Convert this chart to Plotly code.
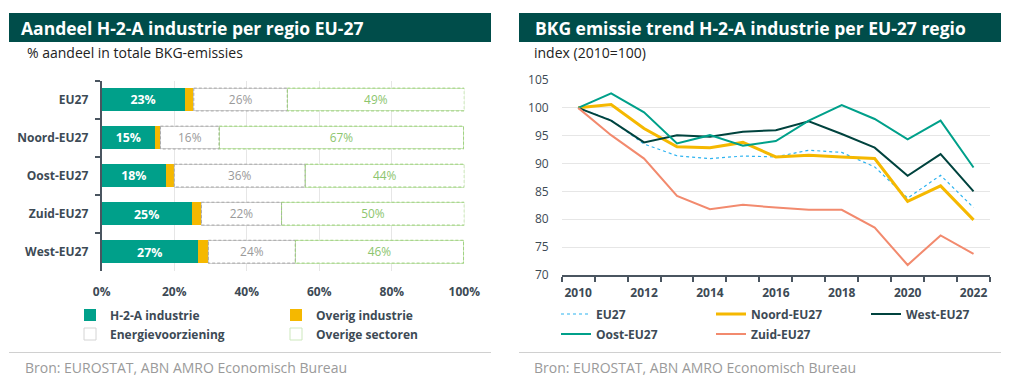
import plotly.graph_objects as go

# ---------------- data ----------------
regions = ["EU27", "Noord-EU27", "Oost-EU27", "Zuid-EU27", "West-EU27"]
h2a = [22.9, 14.8, 17.8, 24.9, 26.6]
overig_ind = [2.5, 1.4, 2.2, 2.6, 2.8]
energie = [25.8, 16.2, 36.1, 22.1, 24.0]
overige = [48.8, 67.4, 43.9, 50.4, 46.4]
pct_ticks = [0, 20, 40, 60, 80, 100]
pct_ticktext = ["0%", "20%", "40%", "60%", "80%", "100%"]

years = [2010, 2011, 2012, 2013, 2014, 2015, 2016, 2017, 2018, 2019, 2020, 2021, 2022]
eu27 = [100, 97.8, 93.5, 91.4, 90.9, 91.35, 91.2, 92.4, 92.0, 89.4, 83.8, 87.9, 82.1]
noord = [100, 100.6, 96.3, 93.0, 92.85, 93.8, 91.2, 91.5, 91.2, 90.9, 83.2, 86.0, 79.9]
west = [100, 97.7, 93.8, 95.1, 94.8, 95.7, 96.0, 97.6, 95.3, 92.85, 87.8, 91.7, 85.0]
oost = [100, 102.6, 99.2, 93.6, 95.1, 93.2, 94.05, 97.7, 100.5, 98.0, 94.35, 97.7, 89.3]
zuid = [100, 95.1, 90.9, 84.2, 81.8, 82.6, 82.1, 81.7, 81.7, 78.5, 71.8, 77.1, 73.8]
year_ticks = [2010, 2012, 2014, 2016, 2018, 2020, 2022]
index_ticks = [70, 75, 80, 85, 90, 95, 100, 105]

# ---------------- style ----------------
W, H = 1012, 387
FONT = "Open Sans"
DARK = "#3d4a55"
HEAD = "#004d4a"
TEAL = "#00a08a"
YELLOW = "#f5b800"
GREY_D = "#a8a8a8"
GREEN_D = "#9fd17f"

def px_x(p):
    return p / W

def px_y(p):
    return 1 - p / H

fig = go.Figure()

# ---- left: stacked bars ----
fig.add_trace(go.Bar(
    y=regions, x=h2a, orientation="h", name="H-2-A industrie",
    marker=dict(color=TEAL, line=dict(width=0)),
    texttemplate="%{x:.0f}%", textposition="inside", insidetextanchor="middle",
    textfont=dict(color="white", size=14, family=FONT, weight="bold"),
    textangle=0, xaxis="x", yaxis="y", legend="legend"))
fig.add_trace(go.Bar(
    y=regions, x=overig_ind, orientation="h", name="Overig industrie",
    marker=dict(color=YELLOW, line=dict(width=0)),
    xaxis="x", yaxis="y", legend="legend"))
fig.add_trace(go.Bar(
    y=regions, x=energie, orientation="h", name="Energievoorziening",
    marker=dict(color="white", line=dict(width=1, color="#d4d4d4")),
    texttemplate="%{x:.0f}%", textposition="inside", insidetextanchor="middle",
    textfont=dict(color="#9a9a9a", size=12, family=FONT),
    textangle=0, xaxis="x", yaxis="y", legend="legend2"))
fig.add_trace(go.Bar(
    y=regions, x=overige, orientation="h", name="Overige sectoren",
    marker=dict(color="white", line=dict(width=1, color="#cde8bd")),
    texttemplate="%{x:.0f}%", textposition="inside", insidetextanchor="middle",
    textfont=dict(color="#8cc56e", size=12, family=FONT),
    textangle=0, xaxis="x", yaxis="y", legend="legend2"))

shapes = []
for i in range(len(regions)):
    s = h2a[i] + overig_ind[i]
    e = s + energie[i]
    o = e + overige[i]
    shapes.append(dict(type="rect", xref="x", yref="y", x0=s, x1=e, y0=i - 0.3, y1=i + 0.3,
                       line=dict(color=GREY_D, width=1, dash="3px,2px"), layer="above"))
    shapes.append(dict(type="rect", xref="x", yref="y", x0=e, x1=o, y0=i - 0.3, y1=i + 0.3,
                       line=dict(color=GREEN_D, width=1, dash="3px,2px"), layer="above"))

# ---- right: lines ----
line_series = [
    ("EU27", eu27, dict(color="#2db3f0", width=1.2, dash="dot"), "legend3"),
    ("Noord-EU27", noord, dict(color=YELLOW, width=3), "legend3"),
    ("West-EU27", west, dict(color="#00433e", width=2), "legend3"),
    ("Oost-EU27", oost, dict(color="#00a08a", width=2), "legend4"),
    ("Zuid-EU27", zuid, dict(color="#f28a6e", width=2), "legend4"),
]
for name, vals, ln, lg in line_series:
    fig.add_trace(go.Scatter(x=years, y=vals, mode="lines", name=name, line=ln,
                             xaxis="x2", yaxis="y2", legend=lg))

# header bars and separators
for x0, x1 in [(9, 491), (519, 1001)]:
    shapes.append(dict(type="rect", xref="paper", yref="paper",
                       x0=px_x(x0), x1=px_x(x1), y0=px_y(42), y1=px_y(13),
                       fillcolor=HEAD, line=dict(width=0), layer="below"))
    shapes.append(dict(type="line", xref="paper", yref="paper",
                       x0=px_x(x0), x1=px_x(x1), y0=px_y(352.5), y1=px_y(352.5),
                       line=dict(color="#d0d0d0", width=1)))

annotations = [
    dict(text="Aandeel H-2-A industrie per regio EU-27", x=px_x(19), y=px_y(27.5),
         font=dict(size=17.5, color="white", family=FONT, weight="bold")),
    dict(text="BKG emissie trend H-2-A industrie per EU-27 regio", x=px_x(533), y=px_y(27.5),
         font=dict(size=17.5, color="white", family=FONT, weight="bold")),
    dict(text="% aandeel in totale BKG-emissies", x=px_x(25), y=px_y(52.5),
         font=dict(size=14, color="#222222", family=FONT)),
    dict(text="index (2010=100)", x=px_x(532), y=px_y(52.5),
         font=dict(size=14, color="#222222", family=FONT)),
    dict(text="Bron: EUROSTAT, ABN AMRO Economisch Bureau", x=px_x(23), y=px_y(367),
         font=dict(size=14, color="#9a9a9a", family=FONT)),
    dict(text="Bron: EUROSTAT, ABN AMRO Economisch Bureau", x=px_x(532), y=px_y(367),
         font=dict(size=14, color="#9a9a9a", family=FONT)),
]
for a in annotations:
    a.update(xref="paper", yref="paper", xanchor="left", yanchor="middle", showarrow=False)

legend_common = dict(orientation="h", xanchor="left", yanchor="middle", bgcolor="rgba(0,0,0,0)",
                     font=dict(size=12, color=DARK, family=FONT, weight="bold"),
                     entrywidthmode="pixels", itemclick=False, tracegroupgap=0,
                     traceorder="normal")

fig.update_layout(
    width=W, height=H, margin=dict(l=0, r=0, t=0, b=0, autoexpand=False),
    paper_bgcolor="white", plot_bgcolor="white",
    font=dict(family=FONT, color=DARK),
    barmode="stack", bargap=0.4, showlegend=True,
    shapes=shapes, annotations=annotations,
    xaxis=dict(domain=[px_x(101.7), px_x(464.3)], range=[0, 100], tickvals=pct_ticks,
               ticktext=pct_ticktext, showgrid=True, gridcolor="#e6e6e6", gridwidth=1,
               zeroline=False, showline=False, ticks="", ticklabelstandoff=12,
               tickfont=dict(size=12, color=DARK, family=FONT, weight="bold"), anchor="y",
               fixedrange=True),
    yaxis=dict(domain=[px_y(270.7), px_y(80.5)], type="category", categoryorder="array",
               categoryarray=regions, autorange="reversed", showgrid=False,
               showline=True, linecolor="#4a5560", linewidth=2, ticks="outside",
               tickson="boundaries", ticklen=5, tickwidth=2, tickcolor="#4a5560",
               ticklabelstandoff=9,
               tickfont=dict(size=12, color=DARK, family=FONT, weight="bold"), anchor="x",
               fixedrange=True),
    xaxis2=dict(domain=[px_x(561.7), px_x(990)], range=[2009.5, 2022.5], tickvals=year_ticks,
                ticktext=[str(y) for y in year_ticks], showgrid=False, zeroline=False,
                showline=True, linecolor="#4a5560", linewidth=2, ticks="", ticklabelstandoff=6,
                minor=dict(tickvals=[y - 0.5 for y in years] + [years[-1] + 0.5], ticks="outside",
                           ticklen=5, tickwidth=2, tickcolor="#4a5560", showgrid=False),
                tickfont=dict(size=12, color=DARK, family=FONT, weight="bold"), anchor="y2",
                fixedrange=True),
    yaxis2=dict(domain=[px_y(275), px_y(80)], range=[70, 105], tickvals=index_ticks,
                showgrid=True, gridcolor="#e6e6e6", zeroline=False, showline=False, ticks="",
                ticklabelstandoff=12,
                tickfont=dict(size=12, color=DARK, family=FONT), anchor="x2", fixedrange=True),
    legend=dict(legend_common, x=px_x(70), y=px_y(315), entrywidth=161),
    legend2=dict(legend_common, x=px_x(70), y=px_y(334), entrywidth=161),
    legend3=dict(legend_common, x=px_x(556), y=px_y(314), entrywidth=110),
    legend4=dict(legend_common, x=px_x(556), y=px_y(334), entrywidth=110),
)

fig.write_html("out.html", config={"displayModeBar": False},
               post_script="document.body.style.margin='0';")
